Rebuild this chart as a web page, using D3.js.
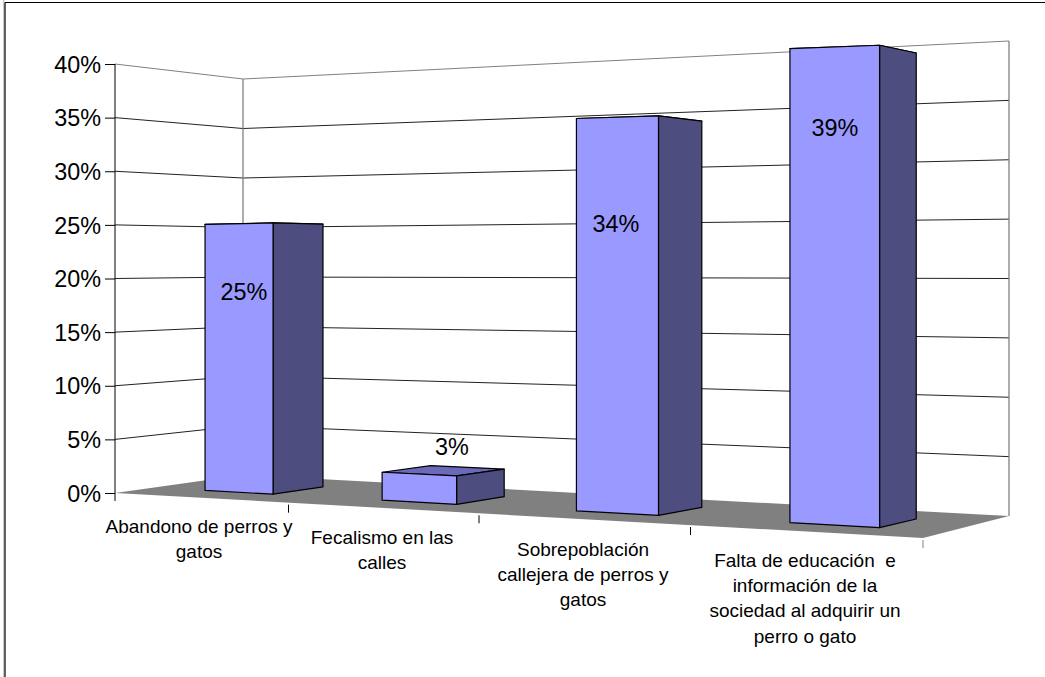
<!DOCTYPE html>
<html><head><meta charset="utf-8">
<script src="https://cdnjs.cloudflare.com/ajax/libs/d3/7.8.5/d3.min.js"></script>
<style>html,body{margin:0;padding:0;background:#fff}svg{display:block}text{font-family:"Liberation Sans",Arial,sans-serif;fill:#000}</style>
</head><body><svg id="c" width="1045" height="677"></svg>
<script>
const categories = [
  ["Abandono de perros y","gatos"],
  ["Fecalismo en las","calles"],
  ["Sobrepoblación","callejera de perros y","gatos"],
  ["Falta de educación  e","información de la","sociedad al adquirir un","perro o gato"]
];
const values = [25, 2.5, 33.5, 38.7];
const valueLabels = ["25%","3%","34%","39%"];
const yTicks = [0,5,10,15,20,25,30,35,40];

const svg = d3.select("#c");
const slots = [0,1,2,3,4];
// perspective scales: u = category slot, d = depth 0 (front) .. 1 (back)
const frontX = d3.scaleLinear().domain(slots).range([115,288.5,479,690.5,923]);
const backX  = d3.scaleLinear().domain(slots).range([243,412,596,795,1009]);
const frontYofX = d3.scaleLinear().domain([115,923]).range([493,538]);
const backYofX  = d3.scaleLinear().domain([243,1009]).range([475,516]);
const frontK = d3.scaleLinear().domain([0,4]).range([10.725,12.95]);
const backK  = d3.scaleLinear().domain([0,4]).range([9.9,11.875]);
const lerp = (a,b,t)=>a+(b-a)*t;
function P(u,d,v){
  const fx=frontX(u), bx=backX(u);
  const y0=lerp(frontYofX(fx),backYofX(bx),d);
  const k=lerp(frontK(u),backK(u),d);
  return [lerp(fx,bx,d), y0-k*v];
}
const poly=(pts,fill,stroke,w)=>svg.append("polygon").attr("points",pts.map(p=>p.join(",")).join(" "))
  .attr("fill",fill).attr("stroke",stroke||"none").attr("stroke-width",w||1).attr("stroke-linejoin","round");
const line=(a,b,c,w)=>svg.append("line").attr("x1",a[0]).attr("y1",a[1]).attr("x2",b[0]).attr("y2",b[1]).attr("stroke",c).attr("stroke-width",w||1);

// frame: only left and top edges show
svg.append("rect").attr("x",3).attr("y",0).attr("width",1.5).attr("height",677).attr("fill","#c8c8c8");
line([5,2.5],[1045,2.5],"#000",1);
line([5,2.5],[5,677],"#000",1.2);

// floor
poly([P(0,0,0),P(4,0,0),P(4,1,0),P(0,1,0)],"#808080");

// gridlines on the two walls
yTicks.forEach(t=>{
  const c = t===40 ? "#808080" : "#222";
  const g=svg.append("polyline").attr("fill","none").attr("stroke",c).attr("stroke-width",1)
    .attr("points",[P(0,0,t),P(0,1,t),P(4,1,t)].map(p=>p.join(",")).join(" "));
  if(t===0) g.attr("stroke","none");
});
line(P(0,1,0),P(0,1,40),"#808080",1.3);
line(P(4,1,0),P(4,1,40),"#808080",1.3);

// y axis through a d3 axis
const yAxisScale=d3.scaleLinear().domain([0,40]).range([P(0,0,0)[1],P(0,0,40)[1]]);
const ax=svg.append("g").attr("transform",`translate(${frontX(0)},0)`)
  .call(d3.axisLeft(yAxisScale).tickValues(yTicks).tickSize(10).tickPadding(4).tickFormat(d=>d+"%"));
ax.select(".domain").remove();
ax.selectAll("line").attr("stroke","#000").attr("x2",-10);
ax.selectAll("text").style("font-size","23.4px").attr("dy","0.35em");
line([frontX(0),P(0,0,40)[1]],[frontX(0),P(0,0,0)[1]+8],"#000",1);

// category ticks
slots.slice(1).forEach(u=>{const p=P(u,0,0);line([p[0],p[1]+2],[p[0],p[1]+10],u===4?"#808080":"#000",1);});

// bars
const ink="#000";
values.forEach((v,i)=>{
  const u0=i+.3,u1=i+.695,d0=.3,d1=.7;
  poly([P(u0,d1,v),P(u1,d1,v),P(u1,d0,v),P(u0,d0,v)],"#6a6ab8",ink,1.2);
  poly([P(u1,d0,0),P(u1,d1,0),P(u1,d1,v),P(u1,d0,v)],"#4d4d80",ink,1.2);
  poly([P(u0,d0,0),P(u1,d0,0),P(u1,d0,v),P(u0,d0,v)],"#9999ff",ink,1.2);
});

// value labels
const labelAt=[[244,292],[452,447],[616,224],[835,128]];
svg.selectAll("text.v").data(valueLabels).enter().append("text").attr("class","v")
  .attr("x",(d,i)=>labelAt[i][0]).attr("y",(d,i)=>labelAt[i][1]).attr("dy","0.35em")
  .attr("text-anchor","middle").style("font-size","23.4px").text(d=>d);

// category labels
const catAt=[[199,527],[382,538],[583,550],[805,561]];
categories.forEach((ls,i)=>{
  const t=svg.append("text").attr("text-anchor","middle").style("font-size","19px").style("white-space","pre");
  ls.forEach((s,j)=>t.append("tspan").attr("x",catAt[i][0]).attr("y",catAt[i][1]+6+j*25.2).text(s));
});
</script></body></html>
